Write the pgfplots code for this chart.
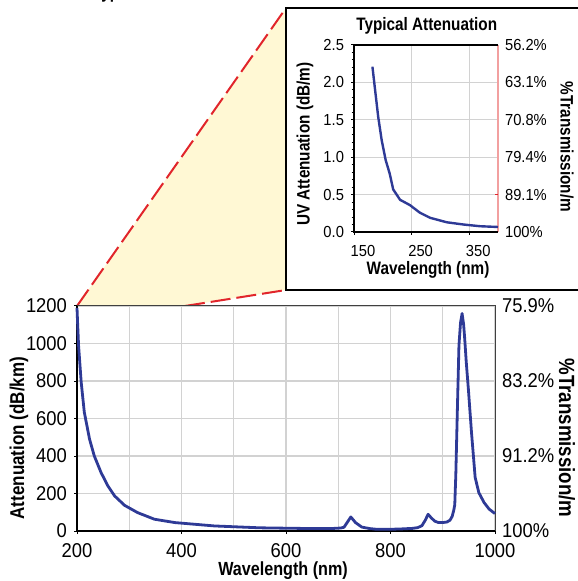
\documentclass[border=0pt]{standalone}
\usepackage{fontspec}
\setmainfont{Liberation Sans}[FakeStretch=0.92,BoldFeatures={FakeStretch=0.85}]
\usepackage{pgfplots}
\pgfplotsset{compat=1.18}

\definecolor{curve}{HTML}{2E3A96}
\definecolor{callred}{HTML}{E1252B}
\definecolor{callfill}{HTML}{FFF8D4}
\definecolor{gridc}{HTML}{D2D2D2}
\definecolor{pinkline}{HTML}{F2A0A0}

\pgfplotstableread{
nm att
200 1190
201 1120
203 990
208 794
214 633
224 490
233 401
246 312
259 241
272 187
291 137
316 98
348 63
387 45
463 27
550 17
600 15
650 13
686 13
705 16
711 20
717 45
724 75
733 45
745 21
760 13
774 9
798 9
820 11
842 14
852 18
860 28
866 55
872 89
878 70
885 52
892 45
900 45
908 48
914 58
918 78
921 110
923 140
925 300
928 650
931 990
934 1110
937 1160
940 1100
942 1026
945 900
949 758
955 526
962 286
969 205
979 152
989 116
1000 93
}\mainatt

\pgfplotstableread{
nm att
182 2.21
186 1.94
192 1.54
198 1.23
205 0.96
212 0.78
218 0.57
230 0.43
247 0.36
264 0.26
282 0.19
311 0.13
340 0.10
369 0.077
400 0.067
}\uvatt

\begin{document}
\begin{tikzpicture}
% callout and inset frame, in pixel units of the reference
\begin{scope}[x=0.5pt,y=-0.5pt]
 \fill[callfill] (77,306) -- (286,8) -- (286,290) -- (185,306) -- cycle;
 \draw[callred, line width=1pt, dash pattern=on 10pt off 3pt] (77,306) -- (286,8);
 \draw[callred, line width=1pt, dash pattern=on 10pt off 3pt] (185,306) -- (286,290);
 \draw[black, line width=0.6pt] (590,8) -- (286,8) -- (286,290) -- (590,290);
 \node[overlay, anchor=base west, font=\bfseries\fontsize{9}{11}\selectfont] at (86,-1) {Typical Attenuation};
\end{scope}

% main chart
\begin{axis}[
 at={(38.5pt,-265.5pt)}, anchor=south west,
 scale only axis, width=209pt, height=112.5pt,
 xmin=200, xmax=1000, ymin=0, ymax=1200,
 xtick={200,400,...,1000}, minor xtick={300,500,700,900},
 ytick={0,200,...,1200},
 xmajorgrids, xminorgrids, ymajorgrids,
 grid style={gridc, line width=0.6pt},
 minor grid style={gridc, line width=0.6pt},
 axis line style={draw=none},
 tick pos=left, tick align=outside,
 major tick length=1.5pt, minor tick length=0pt,
 tick style={black, line width=0.5pt},
 /pgf/number format/assume math mode=true,
 /pgf/number format/1000 sep={},
 tick label style={font=\fontsize{10}{11}\selectfont},
 xticklabel style={yshift=-1pt},
 xlabel={\bfseries Wavelength (nm)},
 ylabel={\bfseries Attenuation (dB/km)},
 xlabel style={font=\fontsize{9.5}{10}\selectfont, at={(axis description cs:0.493,-0.178)}, anchor=center},
 ylabel style={font=\fontsize{10}{11}\selectfont, at={(axis description cs:-0.139,0.413)}, anchor=center},
 clip=false,
]
 \draw[black!75, line width=0.5pt] (rel axis cs:0,1) -- (rel axis cs:1,1) -- (rel axis cs:1,0);
 \draw[black, line width=0.8pt] (rel axis cs:0,1) -- (rel axis cs:0,0);
 \draw[black, line width=1.1pt] (rel axis cs:0,0) -- (rel axis cs:1,0);
 \addplot[curve, line width=1.4pt, line join=round] table[x=nm, y=att] {\mainatt};
\end{axis}
\begin{axis}[
 at={(38.5pt,-265.5pt)}, anchor=south west,
 scale only axis, width=209pt, height=112.5pt,
 xmin=200, xmax=1000, ymin=0, ymax=1200,
 axis x line=none, axis y line*=right,
 axis line style={draw=none},
 ytick={0,400,800,1200},
 yticklabels={100\%,91.2\%,83.2\%,75.9\%},
 major tick length=0pt,
 yticklabel style={font=\fontsize{10}{11}\selectfont},
 ylabel={\bfseries\%Transmission/m},
 ylabel style={font=\fontsize{11}{12}\selectfont, rotate=180, at={(axis description cs:1.172,0.413)}, anchor=center},
]
\end{axis}

% inset chart
\begin{axis}[
 at={(177pt,-116pt)}, anchor=south west,
 scale only axis, width=72pt, height=93.5pt,
 xmin=150, xmax=400, ymin=0, ymax=2.5,
 xtick={150,250,350}, ytick={0,0.5,...,2.5},
 minor y tick num=4,
 xmajorgrids, ymajorgrids,
 grid style={gridc, line width=0.6pt},
 axis line style={draw=none},
 tick pos=left, tick align=outside,
 major tick length=1.5pt, minor tick length=1.2pt,
 tick style={black, line width=0.5pt},
 /pgf/number format/assume math mode=true,
 yticklabel style={/pgf/number format/fixed, /pgf/number format/fixed zerofill, /pgf/number format/precision=1},
 tick label style={font=\fontsize{8}{9}\selectfont},
 xticklabel style={xshift=4.5pt, yshift=-1.5pt},
 title={\bfseries Typical Attenuation},
 every axis title shift=0pt,
 title style={font=\fontsize{9}{10}\selectfont, at={(axis description cs:0.505,1.102)}, anchor=center},
 xlabel={\bfseries Wavelength (nm)},
 ylabel={\bfseries UV Attenuation (dB/m)},
 xlabel style={font=\fontsize{9}{10}\selectfont, at={(axis description cs:0.514,-0.203)}, anchor=center},
 ylabel style={font=\fontsize{9}{10}\selectfont, at={(axis description cs:-0.34,0.47)}, anchor=center},
 clip=false,
]
 \draw[pinkline, line width=0.6pt] (rel axis cs:1,0) -- (rel axis cs:1,1);
 \draw[callred, line width=0.6pt] (axis cs:400,0.5) -- ++(-1.5pt,0pt);
 \draw[black, line width=0.9pt] (rel axis cs:1,1) -- (rel axis cs:0,1) -- (rel axis cs:0,0) -- (rel axis cs:1,0);
 \addplot[curve, line width=1.2pt, line join=round] table[x=nm, y=att] {\uvatt};
\end{axis}
\begin{axis}[
 at={(177pt,-116pt)}, anchor=south west,
 scale only axis, width=72pt, height=93.5pt,
 xmin=150, xmax=400, ymin=0, ymax=2.5,
 axis x line=none, axis y line*=right,
 axis line style={draw=none},
 ytick={0,0.5,...,2.5},
 yticklabels={100\%,89.1\%,79.4\%,70.8\%,63.1\%,56.2\%},
 major tick length=0pt,
 yticklabel style={font=\fontsize{8}{9}\selectfont},
 ylabel={\bfseries\%Transmission/m},
 ylabel style={font=\fontsize{9}{10}\selectfont, rotate=180, at={(axis description cs:1.479,0.455)}, anchor=center},
]
\end{axis}

\pgfresetboundingbox
\path[use as bounding box] (0pt,0pt) rectangle (288.5pt,-290.5pt);
\end{tikzpicture}
\end{document}
